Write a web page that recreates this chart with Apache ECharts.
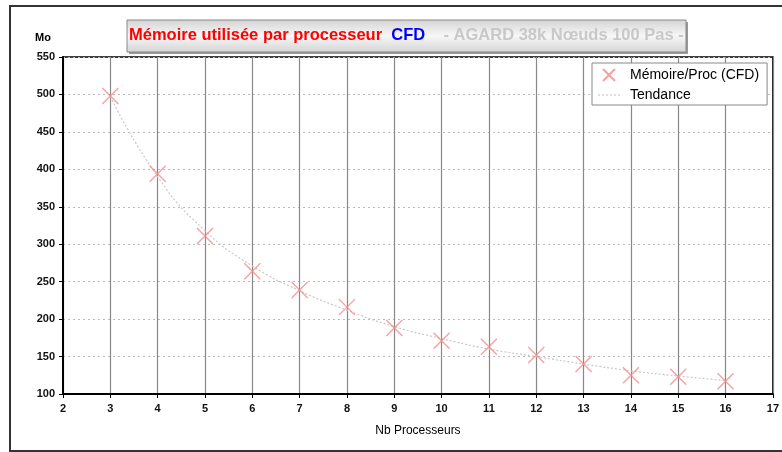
<!DOCTYPE html>
<html>
<head>
<meta charset="utf-8">
<script src="https://cdn.jsdelivr.net/npm/echarts@6/dist/echarts.min.js"></script>
<style>html,body{margin:0;padding:0;background:#fff}#c{width:782px;height:452px}</style>
</head>
<body>
<div id="c"></div>
<script>
var processors = [3, 4, 5, 6, 7, 8, 9, 10, 11, 12, 13, 14, 15, 16];
var memoryPerProc = [498, 394, 311, 264, 239, 216, 188, 171, 163, 152, 140, 125, 123, 117];
var trendValues = [497, 390, 318, 271, 238, 212, 190, 174, 160, 150, 140, 131, 124, 118];
var yTicks = [100, 150, 200, 250, 300, 350, 400, 450, 500, 550];
var xTicks = [2, 3, 4, 5, 6, 7, 8, 9, 10, 11, 12, 13, 14, 15, 16, 17];

var FONT = '"Liberation Sans", Arial, sans-serif';
var dashIcon = 'path://M0,0h0.01v0.01h-0.01z M0,12h0.01v0.01h-0.01z ' +
  'M0,5.5h2v1h-2z M4,5.5h2v1h-2z M8,5.5h2v1h-2z M12,5.5h2v1h-2z M16,5.5h2v1h-2z M20,5.5h2v1h-2z';
var chart = echarts.init(document.getElementById('c'));
chart.setOption({
  backgroundColor: '#fff',
  animation: false,
  textStyle: { fontFamily: FONT },
  grid: { left: 63, top: 57, right: 4, bottom: 58, show: true, borderColor: '#000', borderWidth: 1.5 },
  xAxis: {
    type: 'value', min: xTicks[0], max: xTicks[xTicks.length - 1], interval: 1,
    name: 'Nb Processeurs', nameLocation: 'middle', nameGap: 31,
    nameTextStyle: { fontSize: 12, color: '#000', fontFamily: FONT },
    axisLine: { show: true, onZero: false, lineStyle: { color: '#000', width: 2 } },
    axisTick: { show: true, length: 4, lineStyle: { color: '#000' } },
    axisLabel: { fontSize: 11, fontWeight: 'bold', color: '#111', margin: 9, fontFamily: FONT },
    splitLine: { show: true, lineStyle: { color: '#888', width: 1.2 } }
  },
  yAxis: {
    type: 'value', min: yTicks[0], max: yTicks[yTicks.length - 1], interval: 50,
    name: 'Mo', nameLocation: 'end', nameGap: 14,
    nameTextStyle: { fontSize: 11, fontWeight: 'bold', color: '#000', align: 'right', padding: [0, 12, 0, 0], fontFamily: FONT },
    axisLine: { show: true, lineStyle: { color: '#000', width: 2 } },
    axisTick: { show: true, length: 4, lineStyle: { color: '#000' } },
    axisLabel: { fontSize: 11, fontWeight: 'bold', color: '#111', margin: 8, fontFamily: FONT },
    splitLine: { show: true, lineStyle: { color: '#bbb', type: [2, 3], width: 1 } }
  },
  legend: {
    orient: 'vertical', left: 592, top: 63,
    backgroundColor: '#fff', borderColor: '#888', borderWidth: 1,
    padding: [5, 8, 3, 6], itemGap: 6, itemWidth: 24, itemHeight: 12,
    textStyle: { fontSize: 14, color: '#000', fontFamily: FONT, padding: [0, 0, 0, 4] },
    data: [
      { name: 'Mémoire/Proc (CFD)' },
      { name: 'Tendance', icon: dashIcon, itemStyle: { color: '#c0c0c0', borderWidth: 0 } }
    ]
  },
  series: [
    {
      name: 'Tendance', type: 'line', smooth: true, symbol: 'none', z: 2,
      data: processors.map(function (p, i) { return [p, trendValues[i]]; }),
      itemStyle: { color: '#c8c8c8' },
      lineStyle: { color: '#c8c8c8', width: 1.2, type: [2, 2] }
    },
    {
      name: 'Mémoire/Proc (CFD)', type: 'scatter', z: 3,
      symbol: 'path://M0,0L10,10M10,0L0,10', symbolSize: 16,
      data: processors.map(function (p, i) { return [p, memoryPerProc[i]]; }),
      itemStyle: { color: 'rgba(0,0,0,0)', borderColor: '#f58a8a', borderWidth: 1.4 }
    }
  ],
  graphic: [
    { type: 'rect', shape: { x: 10, y: 6, width: 800, height: 445 }, style: { fill: 'none', stroke: '#333', lineWidth: 2 }, z: 0 },
    { type: 'rect', shape: { x: 129, y: 22, width: 559, height: 32 }, style: { fill: '#999' }, z: 10 },
    { type: 'rect', shape: { x: 127, y: 20, width: 559, height: 32 },
      style: { fill: new echarts.graphic.LinearGradient(0, 0, 0, 1, [
        { offset: 0, color: '#d4d4d4' }, { offset: 0.5, color: '#f7f7f7' }, { offset: 1, color: '#d4d4d4' }]),
        stroke: '#888', lineWidth: 1 }, z: 11 },
    { type: 'text', left: 129, top: 27, z: 12,
      style: {
        text: '{r|Mémoire utilisée par processeur}{b|  CFD}{g|    - AGARD 38k Nœuds 100 Pas -}',
        rich: {
          r: { fill: '#ff0000', fontSize: 16.5, fontWeight: 'bold', fontFamily: FONT },
          b: { fill: '#0000ff', fontSize: 16.5, fontWeight: 'bold', fontFamily: FONT },
          g: { fill: '#c8c8c8', fontSize: 16.5, fontWeight: 'bold', fontFamily: FONT }
        }
      }
    }
  ]
});
</script>
</body>
</html>
